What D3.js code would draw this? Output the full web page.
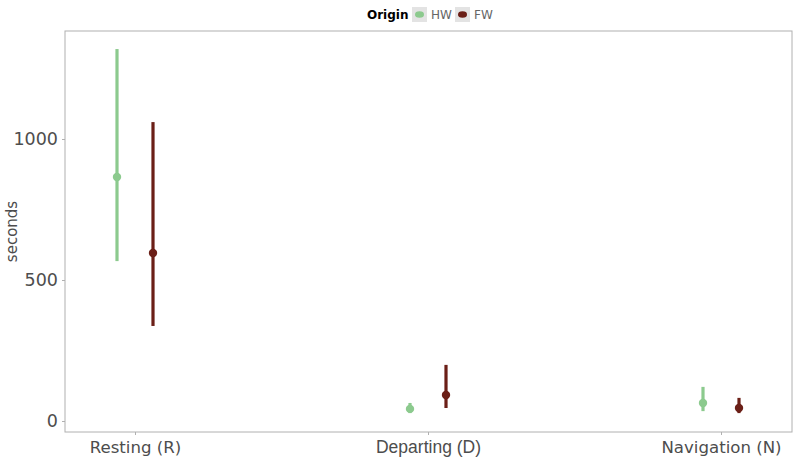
<!DOCTYPE html>
<html><head><meta charset="utf-8">
<script src="https://cdn.jsdelivr.net/npm/d3@7"></script>
<style>body{margin:0;background:#fff;font-family:"DejaVu Sans",sans-serif;}</style>
</head><body><svg id="c" width="797" height="459"></svg>
<script>
const categories = ["Resting (R)", "Departing (D)", "Navigation (N)"];
const origins = ["HW", "FW"];
const colors = ["#8cca8e", "#6b1f17"];
const hwMean = [865, 43, 64];
const hwLow  = [567, 28, 35];
const hwHigh = [1319, 64, 121];
const fwMean = [596, 92, 46];
const fwLow  = [337, 46, 28];
const fwHigh = [1060, 199, 82];
const yTicks = [0, 500, 1000];

const svg = d3.select("#c");
const L = 65, R = 792, T = 31, B = 432;
const y = d3.scaleLinear().domain([-39, 1383]).range([B, T]);
const x = d3.scalePoint().domain(categories).range([135, 721]);
const dodge = d3.scalePoint().domain(origins).range([-18, 18]);

svg.append("rect").attr("x", L).attr("y", T).attr("width", R - L).attr("height", B - T)
  .attr("fill", "none").attr("stroke", "#b0b0b0").attr("stroke-width", 1);

const yAxis = d3.axisLeft(y).tickValues(yTicks).tickFormat(d3.format("d")).tickSize(3).tickPadding(4);
const gy = svg.append("g").attr("transform", `translate(${L},0)`).call(yAxis);
gy.select(".domain").remove();
gy.selectAll("line").attr("stroke", "#b0b0b0");
gy.selectAll("text").attr("fill", "#4d4d4d").style("font-size", "17.5px").style("font-family", "DejaVu Sans");

const xAxis = d3.axisBottom(x).tickSize(3).tickPadding(6);
const gx = svg.append("g").attr("transform", `translate(0,${B})`).call(xAxis);
gx.select(".domain").remove();
gx.selectAll("line").attr("stroke", "#b0b0b0");
gx.selectAll("text").attr("fill", "#4d4d4d").style("font-size", "16.6px").style("font-family", "DejaVu Sans");
gx.selectAll("text").filter(d => d === "Departing (D)")
  .style("font-family", "Liberation Sans").style("font-size", "17.5px");

svg.append("text").attr("transform", `translate(17,${(T + B) / 2}) rotate(-90)`)
  .attr("text-anchor", "middle").attr("fill", "#4d4d4d").style("font-size", "15px").text("seconds");

const series = [
  {o: "HW", c: colors[0], m: hwMean, lo: hwLow, hi: hwHigh},
  {o: "FW", c: colors[1], m: fwMean, lo: fwLow, hi: fwHigh}
];
series.forEach(s => {
  const g = svg.append("g");
  categories.forEach((cat, i) => {
    const cx = x(cat) + dodge(s.o);
    g.append("line").attr("x1", cx).attr("x2", cx).attr("y1", y(s.lo[i])).attr("y2", y(s.hi[i]))
      .attr("stroke", s.c).attr("stroke-width", 3.2);
    g.append("circle").attr("cx", cx).attr("cy", y(s.m[i])).attr("r", 4.2).attr("fill", s.c);
  });
});

// legend
const lg = svg.append("g");
lg.append("text").attr("x", 367).attr("y", 19).style("font-size", "12px").style("font-weight", "bold").attr("fill", "#000").text("Origin");
const keyX = [412, 455];
origins.forEach((o, i) => {
  lg.append("rect").attr("x", keyX[i]).attr("y", 7).attr("width", 15).attr("height", 15).attr("fill", "#e3e3e3");
  lg.append("ellipse").attr("cx", keyX[i] + 7.5).attr("cy", 14.5).attr("rx", 4.5).attr("ry", 3.2).attr("fill", colors[i]);
  lg.append("text").attr("x", keyX[i] + 19).attr("y", 19).style("font-size", "12px").attr("fill", "#666").text(o);
});
</script></body></html>
